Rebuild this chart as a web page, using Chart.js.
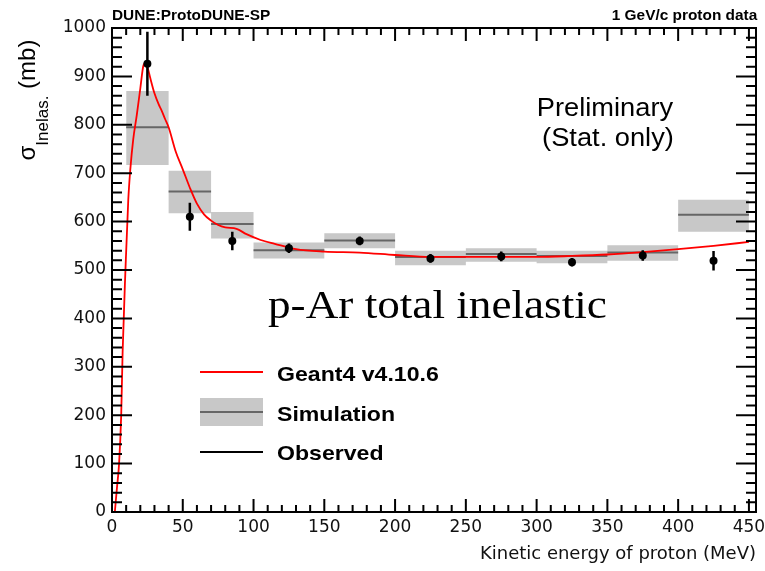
<!DOCTYPE html>
<html>
<head>
<meta charset="utf-8">
<script src="https://cdn.jsdelivr.net/npm/chart.js@4.4.1/dist/chart.umd.min.js"></script>
<style>
  body { margin: 0; background: #fff; }
  #wrap { position: relative; width: 765px; height: 571px; overflow: hidden; }
  canvas { position: absolute; left: 0; top: 0; }
  .t { position: absolute; white-space: nowrap; line-height: 1; color: #000; font-family: "Liberation Sans", Arial, sans-serif; }
  .b { font-weight: bold; }
  .sw { position: absolute; left: 200px; width: 63px; }
</style>
</head>
<body>
<div id="wrap">
  <canvas id="xsChart" width="765" height="571"></canvas>

  <div class="t b" style="left:112px; top:8px; font-size:14px; transform:scaleX(1.1); transform-origin:0 0;">DUNE:ProtoDUNE-SP</div>
  <div class="t b" style="right:8px; top:8px; font-size:14px; transform:scaleX(1.1); transform-origin:100% 0;">1 GeV/c proton data</div>

  <div class="t" style="left:605px; top:95px; font-size:25px; transform:translateX(-50%) scaleX(1.09); transform-origin:50% 0;">Preliminary</div>
  <div class="t" style="left:608px; top:125px; font-size:25px; transform:translateX(-50%) scaleX(1.09); transform-origin:50% 0;">(Stat. only)</div>

  <div class="t" style="left:268px; top:285px; font-size:40px; font-family:'Liberation Serif', 'Times New Roman', serif; transform:scaleX(1.13); transform-origin:0 0;">p-Ar total inelastic</div>

  <!-- leyenda -->
  <div class="sw" style="top:371px; height:2px; background:#ff0000;"></div>
  <div class="sw" style="top:398px; height:28px; background:#c8c8c8;"></div>
  <div class="sw" style="top:411px; height:2px; background:#666;"></div>
  <div class="sw" style="top:451px; height:2px; background:#000;"></div>
  <div class="t b" style="left:277px; top:363px; font-size:21px; transform:scaleX(1.1); transform-origin:0 0;">Geant4 v4.10.6</div>
  <div class="t b" style="left:277px; top:403px; font-size:21px; transform:scaleX(1.1); transform-origin:0 0;">Simulation</div>
  <div class="t b" style="left:277px; top:442px; font-size:21px; transform:scaleX(1.1); transform-origin:0 0;">Observed</div>

  <!-- titulo del eje y -->
  <div class="t" style="left:-43px; top:85px; width:140px; height:30px; line-height:30px; text-align:center; font-size:24px; transform:rotate(-90deg);">σ<span style="font-size:17px; position:relative; top:13px;">Inelas.</span>&nbsp;(mb)</div>
</div>

<script>
// Valores
const xTicks = [0, 50, 100, 150, 200, 250, 300, 350, 400, 450];
const yTicks = [0, 100, 200, 300, 400, 500, 600, 700, 800, 900, 1000];

// Simulacion: cajas por bin (bordes, valor central, banda)
const binEdges = [10, 40, 70, 100, 150, 200, 250, 300, 350, 400, 450];
const simCentral = [795, 662, 595, 541, 561, 527, 533, 529, 536, 614];
const simLow = [717, 617, 565, 524, 545, 510, 517, 514, 519, 579];
const simHigh = [870, 705, 620, 557, 576, 540, 545, 540, 551, 645];

// Datos observados con error estadistico
const obsEnergy = [25, 55, 85, 125, 175, 225, 275, 325, 375, 425];
const obsXsec = [926, 610, 560, 545, 560, 524, 528, 516, 530, 519];
const obsErr = [66, 29, 19, 10, 9, 9, 10, 9, 11, 20];

// Curva Geant4
const g4Energy = [2, 3.5, 5, 6.5, 7.5, 9.5, 11.5, 13, 15, 17.5, 20, 22, 23.5, 25, 27, 30, 33, 35, 37.5, 40,
  45, 50, 55, 60, 65, 70, 75, 80, 88, 95, 105, 115, 130, 150, 175, 200, 225, 250, 275, 300,
  325, 350, 375, 400, 425, 450];
const g4Xsec = [0, 50, 100, 200, 330, 500, 645, 710, 770, 820, 875, 920, 928, 920, 897, 865, 842, 830, 812, 795,
  745, 708, 670, 637, 615, 602, 593, 588, 585, 574, 562, 554, 543, 538, 536, 531, 527, 527, 527, 527,
  529, 532, 537, 543, 550, 558];

// Construir las series para Chart.js
const stepped = vals => binEdges.map((e, i) => ({ x: e, y: vals[Math.min(i, vals.length - 1)] }));
const centralSegs = simCentral.flatMap((v, i) => [
  { x: binEdges[i], y: v }, { x: binEdges[i + 1], y: v }, { x: binEdges[i + 1], y: null }
]);
const errSegs = obsEnergy.flatMap((e, i) => [
  { x: e, y: obsXsec[i] - obsErr[i] }, { x: e, y: obsXsec[i] + obsErr[i] }, { x: e, y: null }
]);
const obsPoints = obsEnergy.map((e, i) => ({ x: e, y: obsXsec[i] }));
const g4Points = g4Energy.map((e, i) => ({ x: e, y: g4Xsec[i] }));

// Marco estilo ROOT con ticks hacia adentro
const frameTicks = {
  id: 'frameTicks',
  afterDatasetsDraw(chart) {
    const { ctx, chartArea: a, scales: { x, y } } = chart;
    ctx.save();
    ctx.strokeStyle = '#000';
    ctx.lineWidth = 2;
    ctx.beginPath();
    for (let v = 0; v <= 450; v += 10) {
      const px = x.getPixelForValue(v);
      const len = v % 50 === 0 ? 13 : 7;
      ctx.moveTo(px, a.bottom); ctx.lineTo(px, a.bottom - len);
      ctx.moveTo(px, a.top); ctx.lineTo(px, a.top + len);
    }
    for (let v = 0; v <= 1000; v += 20) {
      const py = y.getPixelForValue(v);
      const len = v % 100 === 0 ? 20 : 10;
      ctx.moveTo(a.left, py); ctx.lineTo(a.left + len, py);
      ctx.moveTo(a.right, py); ctx.lineTo(a.right - len, py);
    }
    ctx.stroke();
    ctx.strokeRect(a.left, a.top, a.right - a.left, a.bottom - a.top);
    ctx.restore();
  }
};

const ctx = document.getElementById('xsChart').getContext('2d');
new Chart(ctx, {
  type: 'line',
  data: {
    datasets: [
      { label: 'simHigh', data: stepped(simHigh), stepped: true, borderWidth: 0, borderColor: 'rgba(0,0,0,0)',
        pointRadius: 0, fill: '+1', backgroundColor: '#c8c8c8', order: 6 },
      { label: 'simLow', data: stepped(simLow), stepped: true, borderWidth: 0, borderColor: 'rgba(0,0,0,0)',
        pointRadius: 0, fill: false, order: 5 },
      { label: 'Simulation', data: centralSegs, borderColor: '#666', borderWidth: 2, pointRadius: 0,
        spanGaps: false, order: 4 },
      { label: 'Geant4 v4.10.6', data: g4Points, borderColor: '#ff0000', borderWidth: 1.8, pointRadius: 0,
        cubicInterpolationMode: 'monotone', order: 3 },
      { label: 'errors', data: errSegs, borderColor: '#000', borderWidth: 2.5, pointRadius: 0,
        spanGaps: false, order: 2 },
      { label: 'Observed', data: obsPoints, showLine: false, pointRadius: 4, pointBackgroundColor: '#000',
        pointBorderWidth: 0, order: 1 }
    ]
  },
  options: {
    responsive: false,
    animation: false,
    devicePixelRatio: 1,
    layout: { padding: { left: 0, right: 9, top: 28, bottom: 0 } },
    plugins: { legend: { display: false }, tooltip: { enabled: false } },
    scales: {
      x: {
        type: 'linear', min: 0, max: 455,
        grid: { display: false, drawTicks: false },
        border: { display: false },
        afterBuildTicks: s => { s.ticks = xTicks.map(v => ({ value: v })); },
        afterFit: s => { s.height = 59; s.paddingLeft = 0; s.paddingRight = 0; },
        ticks: { font: { family: 'DejaVu Sans', size: 17 }, color: '#111', padding: 5, maxRotation: 0,
          autoSkip: false, callback: v => String(v) },
        title: { display: true, text: 'Kinetic energy of proton (MeV)', align: 'end',
          font: { family: 'DejaVu Sans', size: 18 }, color: '#111', padding: { top: 0, bottom: 6 } }
      },
      y: {
        type: 'linear', min: 0, max: 1000,
        grid: { display: false, drawTicks: false },
        border: { display: false },
        afterBuildTicks: s => { s.ticks = yTicks.map(v => ({ value: v })); },
        afterFit: s => { s.width = 112; s.paddingTop = 0; s.paddingBottom = 0; },
        ticks: { font: { family: 'DejaVu Sans', size: 17 }, color: '#111', padding: 6, callback: v => String(v) }
      }
    }
  },
  plugins: [frameTicks]
});
</script>
</body>
</html>
